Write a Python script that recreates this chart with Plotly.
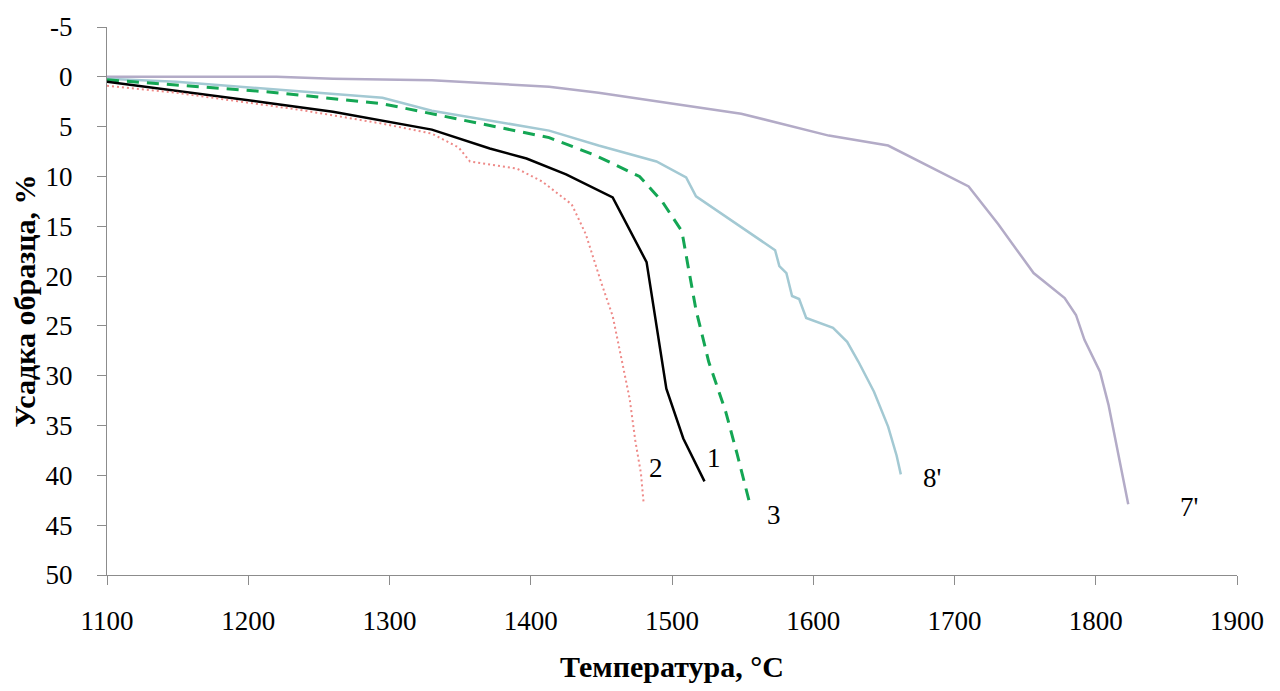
import plotly.graph_objects as go

# Curve 1 (black solid)
t1 = [1100, 1150, 1213, 1260, 1295, 1330, 1371, 1397, 1425, 1458, 1482, 1496, 1508, 1523]
s1 = [0.5, 1.4, 2.6, 3.5, 4.4, 5.3, 7.2, 8.2, 9.8, 12.1, 18.6, 31.3, 36.3, 40.6]

# Curve 2 (red dotted)
t2 = [1100, 1149, 1236, 1295, 1330, 1349, 1357, 1390, 1408, 1429, 1439, 1450, 1458, 1464, 1470, 1474, 1478, 1480]
s2 = [0.9, 1.6, 3.3, 4.7, 5.7, 7.1, 8.5, 9.2, 10.5, 12.8, 15.8, 20.7, 24.0, 28.0, 32.3, 36.5, 39.8, 42.9]

# Curve 3 (green dashed)
t3 = [1100, 1150, 1213, 1295, 1330, 1413, 1446, 1477, 1493, 1507, 1511, 1517, 1526, 1538, 1546, 1555]
s3 = [0.3, 0.8, 1.5, 2.7, 3.7, 6.1, 7.9, 10.0, 12.5, 15.5, 18.7, 23.4, 28.6, 33.6, 37.8, 42.8]

# Curve 8' (light blue)
t8 = [1100, 1149, 1213, 1295, 1330, 1413, 1448, 1489, 1510, 1517, 1573, 1576, 1581, 1585, 1590, 1595,
      1614, 1624, 1632, 1643, 1653, 1659, 1662]
s8 = [0.2, 0.5, 1.2, 2.1, 3.4, 5.4, 6.9, 8.5, 10.1, 12.0, 17.4, 19.0, 19.7, 22.0, 22.3, 24.2,
      25.2, 26.6, 28.6, 31.6, 35.1, 38.0, 39.9]

# Curve 7' (grey-violet)
t7 = [1100, 1220, 1260, 1330, 1413, 1448, 1549, 1611, 1653, 1684, 1710, 1731, 1756, 1778, 1786,
      1792, 1803, 1809, 1823]
s7 = [0.0, 0.0, 0.2, 0.35, 1.0, 1.6, 3.7, 5.9, 6.9, 9.1, 11.0, 14.8, 19.7, 22.2, 23.9,
      26.4, 29.6, 32.9, 42.9]

labels = ["2", "1", "3", "8'", "7'"]
label_x = [1489, 1530, 1572, 1684, 1866]
label_y = [39.3, 38.3, 44.0, 40.3, 43.2]

y_ticks = [-5, 0, 5, 10, 15, 20, 25, 30, 35, 40, 45, 50]
y_ticktext = ["-5", "0", "5", "10", "15", "20", "25", "30", "35", "40", "45", "50"]

FONT = "Liberation Serif"

fig = go.Figure()
fig.add_trace(go.Scatter(x=t7, y=s7, mode="lines", line=dict(color="#B3ABC7", width=2.5)))
fig.add_trace(go.Scatter(x=t8, y=s8, mode="lines", line=dict(color="#A3C9D3", width=2.5)))
fig.add_trace(go.Scatter(x=t3, y=s3, mode="lines", line=dict(color="#14A654", width=3, dash="12px,8px")))
fig.add_trace(go.Scatter(x=t1, y=s1, mode="lines", line=dict(color="#000000", width=2.5)))
fig.add_trace(go.Scatter(x=t2, y=s2, mode="lines", line=dict(color="#EE8A88", width=2, dash="2px,3px")))

for txt, lx, ly in zip(labels, label_x, label_y):
    fig.add_annotation(x=lx, y=ly, text=txt, showarrow=False,
                       font=dict(family=FONT, size=27, color="#000000"))

fig.update_layout(
    width=1280, height=691,
    margin=dict(l=107, r=43, t=19, b=116),
    paper_bgcolor="white", plot_bgcolor="white",
    showlegend=False,
    font=dict(family=FONT, size=27, color="#000000"),
)
fig.update_xaxes(
    range=[1100, 1900], dtick=100, tick0=1100,
    showgrid=False, zeroline=False,
    showline=True, linecolor="#8C8C8C", linewidth=1,
    ticks="outside", ticklen=9, tickcolor="#8C8C8C",
    ticklabelstandoff=13,
    tickfont=dict(family=FONT, size=27),
    title=dict(text="<b>Температура, °C</b>", font=dict(family=FONT, size=30), standoff=20),
)
fig.update_yaxes(
    range=[50, -5], tickmode="array", tickvals=y_ticks, ticktext=y_ticktext,
    showgrid=False, zeroline=False,
    showline=True, linecolor="#8C8C8C", linewidth=1,
    ticks="outside", ticklen=9, tickcolor="#8C8C8C",
    ticklabelstandoff=19,
    tickfont=dict(family=FONT, size=27),
    title=dict(text="<b>Усадка образца, %</b>", font=dict(family=FONT, size=30), standoff=1),
)

fig.write_html("out.html")
